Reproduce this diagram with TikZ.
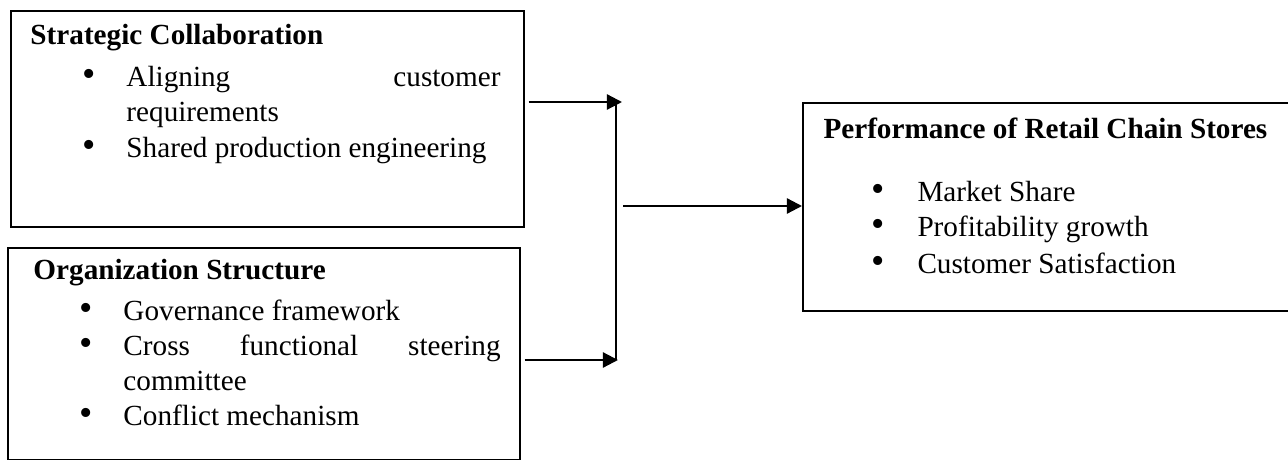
\documentclass[tikz,border=0pt]{standalone}
\usepackage{fontspec}
\setmainfont{Liberation Serif}
\usetikzlibrary{arrows.meta}
\newcommand\pxunit{0.411}
\newcommand\bul{\scalebox{1.3}{•}}
\begin{document}
\begin{tikzpicture}[x=0.411pt,y=-0.411pt,
  box/.style={draw, line width=0.7pt, anchor=north west, inner sep=0pt},
  txt/.style={anchor=base west, inner sep=0pt, font=\fontsize{12pt}{14pt}\selectfont},
  ttl/.style={txt, font=\fontsize{12pt}{14pt}\selectfont\bfseries},
  arr/.style={line width=0.9pt, -{Triangle[length=6.2pt,width=6.2pt]}},
  vline/.style={line width=0.5pt}]
\useasboundingbox (0,0) rectangle (1288,460);
% boxes
\node[box, minimum width={513*\pxunit pt}, minimum height={216*\pxunit pt}] (b1) at (10,10) {};
\node[box, minimum width={512*\pxunit pt}, minimum height={212*\pxunit pt}] (b2) at (7,247) {};
\node[box, minimum width={493*\pxunit pt}, minimum height={208*\pxunit pt}] (b3) at (802,102) {};
% box 1 text
\node[ttl] (t1) at (30,45) {Strategic Collaboration};
\node[txt] (d11) at (82,87) {\bul};
\node[txt] (l11) at (126,87) {\hbox to 153.7pt{Aligning\hfill customer}};
\node[txt] (l12) at (126,122) {requirements};
\node[txt] (d12) at (82,158) {\bul};
\node[txt] (l13) at (126,158) {Shared production engineering};
% box 2 text
\node[ttl] (t2) at (33,279) {Organization Structure};
\node[txt] (d21) at (79,320) {\bul};
\node[txt] (l21) at (123,320) {Governance framework};
\node[txt] (d22) at (79,355) {\bul};
\node[txt] (l22) at (123,355) {\hbox to 155pt{Cross\hfill functional\hfill steering}};
\node[txt] (l23) at (123,390) {committee};
\node[txt] (d23) at (79,425) {\bul};
\node[txt] (l24) at (123,425) {Conflict mechanism};
% box 3 text
\node[ttl] (t3) at (823,139) {Performance of Retail Chain Stores};
\node[txt] (d31) at (871,201) {\bul};
\node[txt] (l31) at (917,201) {Market Share};
\node[txt] (d32) at (871,237) {\bul};
\node[txt] (l32) at (917,237) {Profitability growth};
\node[txt] (d33) at (871,273) {\bul};
\node[txt] (l33) at (917,273) {Customer Satisfaction};
% connectors
\coordinate (jt) at (616,102);
\coordinate (jb) at (616,360);
\coordinate (tt) at (622,102);
\coordinate (tb) at (618,360);
\coordinate (jm) at (623,206);
\draw[arr, shorten <={4*\pxunit pt}] (b1.east |- tt) -- (tt);
\draw[arr, shorten <={4*\pxunit pt}] (b2.east |- tb) -- (tb);
\draw[vline] (jt) -- (jb);
\draw[arr] (jm) -- (jm -| b3.west);
\end{tikzpicture}
\end{document}
